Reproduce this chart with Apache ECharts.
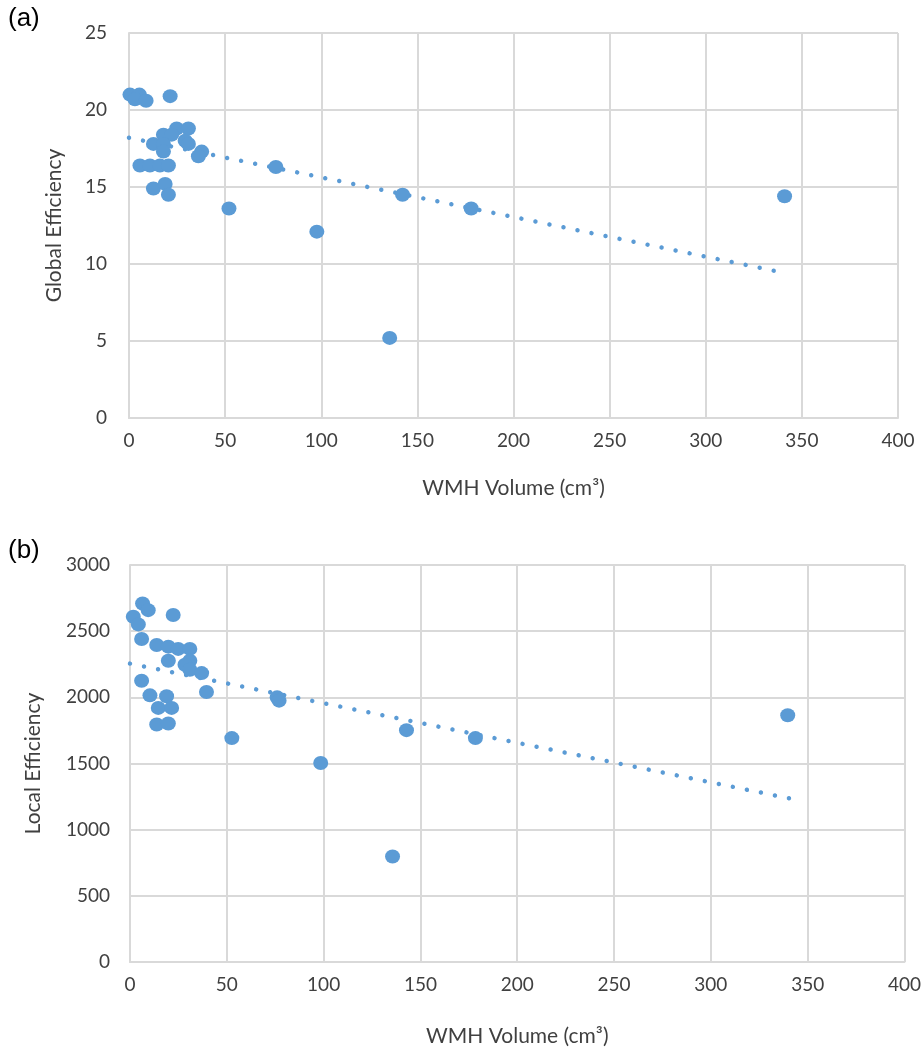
<!DOCTYPE html>
<html>
<head>
<meta charset="utf-8">
<script src="https://cdn.jsdelivr.net/npm/echarts@6/dist/echarts.min.js"></script>
<style>
  html, body { margin: 0; padding: 0; background: #fff; }
  #chart { width: 924px; height: 1054px; }
</style>
</head>
<body>
<div id="chart"></div>
<script>
// panel (a): global efficiency vs WMH volume
var globalX = [0.5, 5.4, 3.1, 8.9, 21.4,
  24.8, 30.9, 17.9, 22.2, 12.7, 17.9, 29.2, 30.9, 17.9, 37.8, 36.1,
  5.7, 10.9, 16.1, 20.5, 12.7, 18.8, 20.5,
  52, 76.4, 97.7, 135.6, 142.3, 178, 341];
var globalY = [21.0, 21.0, 20.7, 20.6, 20.9,
  18.8, 18.8, 18.4, 18.4, 17.8, 17.8, 18.0, 17.8, 17.3, 17.3, 17.0,
  16.4, 16.4, 16.4, 16.4, 14.9, 15.2, 14.5,
  13.6, 16.3, 12.1, 5.2, 14.5, 13.6, 14.4];
var globalTrendX = [0, 336];
var globalTrendY = [18.2, 9.55];

// panel (b): local efficiency vs WMH volume
var localX = [6.5, 9.4, 1.7, 4.3, 22.3, 6.0, 13.8, 19.8, 24.9, 30.9,
  19.8, 30.9, 28.4, 30.9, 37.0, 6.0, 39.5, 10.3, 18.9, 14.6, 21.5,
  13.8, 19.8, 76, 77, 52.6, 98.5, 135.6, 142.8, 178.4, 339.7];
var localY = [2709, 2659, 2609, 2551, 2622, 2441, 2396, 2383, 2366, 2366,
  2276, 2276, 2246, 2208, 2183, 2125, 2040, 2015, 2008, 1920, 1920,
  1795, 1802, 2000, 1975, 1692, 1504, 797, 1752, 1692, 1865];
var localTrendX = [0, 341];
var localTrendY = [2255, 1235];

function pairs(xs, ys) {
  return xs.map(function (x, i) { return [x, ys[i]]; });
}

var blue = '#5b9bd5';
var gridColor = '#d9d9d9';
var labelFont = { fontFamily: 'Lato', fontSize: 19, color: '#404040' };
var nameFont = { fontFamily: 'Lato', fontSize: 21, color: '#404040' };

function xAxisFor(idx, gap) {
  return {
    gridIndex: idx, type: 'value', min: 0, max: 400, interval: 50,
    name: 'WMH Volume (cm³)', nameLocation: 'middle', nameGap: gap,
    nameTextStyle: nameFont,
    axisLine: { show: true, lineStyle: { color: gridColor, width: 2 } },
    axisTick: { show: false },
    axisLabel: Object.assign({ margin: 13, formatter: function (v) { return String(v); } }, labelFont),
    splitLine: { show: true, lineStyle: { color: gridColor, width: 2 } }
  };
}

function yAxisFor(idx, name, max, interval, gap, margin) {
  return {
    gridIndex: idx, type: 'value', min: 0, max: max, interval: interval,
    name: name, nameLocation: 'middle', nameGap: gap,
    nameTextStyle: nameFont,
    axisLine: { show: true, lineStyle: { color: gridColor, width: 2 } },
    axisTick: { show: false },
    axisLabel: Object.assign({ margin: margin, formatter: function (v) { return String(v); } }, labelFont),
    splitLine: { show: true, lineStyle: { color: gridColor, width: 2 } }
  };
}

var trendStyle = { color: blue, width: 4.5, type: [0.01, 14.3], cap: 'round' };

var chart = echarts.init(document.getElementById('chart'), null, { renderer: 'canvas' });
chart.setOption({
  animation: false,
  backgroundColor: '#fff',
  graphic: [
    { type: 'text', left: 8, top: 6, style: { text: '(a)', font: '26px "Liberation Sans"', fill: '#000' } },
    { type: 'text', left: 8, top: 538, style: { text: '(b)', font: '26px "Liberation Sans"', fill: '#000' } }
  ],
  grid: [
    { left: 129, top: 33, width: 769, height: 385 },
    { left: 130, top: 565, width: 776, height: 397 }
  ],
  xAxis: [xAxisFor(0, 60), xAxisFor(1, 64)],
  yAxis: [
    yAxisFor(0, 'Global Efficiency', 25, 5, 64, 22),
    yAxisFor(1, 'Local Efficiency', 3000, 500, 86, 20)
  ],
  series: [
    {
      type: 'line', xAxisIndex: 0, yAxisIndex: 0, showSymbol: false,
      data: pairs(globalTrendX, globalTrendY), lineStyle: trendStyle, z: 1
    },
    {
      type: 'scatter', xAxisIndex: 0, yAxisIndex: 0, symbolSize: [15, 14],
      data: pairs(globalX, globalY), itemStyle: { color: blue, opacity: 1 }, z: 2
    },
    {
      type: 'line', xAxisIndex: 1, yAxisIndex: 1, showSymbol: false,
      data: pairs(localTrendX, localTrendY), lineStyle: trendStyle, z: 1
    },
    {
      type: 'scatter', xAxisIndex: 1, yAxisIndex: 1, symbolSize: [15, 14],
      data: pairs(localX, localY), itemStyle: { color: blue, opacity: 1 }, z: 2
    }
  ]
});
</script>
</body>
</html>
